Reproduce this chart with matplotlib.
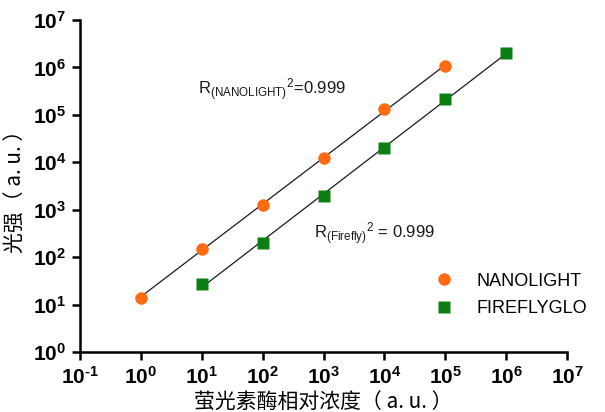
import numpy as np
import matplotlib
matplotlib.use("Agg")
import matplotlib.pyplot as plt
from matplotlib.ticker import FixedLocator, NullLocator

plt.rcParams['font.family'] = ['Liberation Sans', 'Noto Sans CJK SC', 'DejaVu Sans']
plt.rcParams['mathtext.fontset'] = 'custom'
plt.rcParams['mathtext.rm'] = 'Liberation Sans'
plt.rcParams['mathtext.it'] = 'Liberation Sans:italic'
plt.rcParams['mathtext.bf'] = 'Liberation Sans:bold'

# data
nano_x = [1, 10, 100, 1e3, 1e4, 1e5]
nano_y = [14, 150, 1250, 12500, 130000, 1050000]
fire_x = [10, 100, 1e3, 1e4, 1e5, 1e6]
fire_y = [27, 200, 1900, 20000, 220000, 2000000]
x_exps = [-1, 0, 1, 2, 3, 4, 5, 6, 7]
y_exps = [0, 1, 2, 3, 4, 5, 6, 7]
xlabel = "萤光素酶相对浓度（ a. u. ）"
ylabel = "光强（ a. u. ）"
nano_label = "NANOLIGHT"
fire_label = "FIREFLYGLO"
nano_r2 = "0.999"
fire_r2 = "0.999"

orange = '#FF6A13'
green = '#0C7E12'

fig = plt.figure(figsize=(6.05, 4.12), dpi=100)
ax = fig.add_axes([80/605, 60/412, 487/605, 332/412])
ax.set_xscale('log')
ax.set_yscale('log')
ax.set_xlim(10.0**x_exps[0], 10.0**x_exps[-1])
ax.set_ylim(10.0**y_exps[0], 10.0**y_exps[-1])

def fit_line(xs, ys):
    lx, ly = np.log10(xs), np.log10(ys)
    k, b = np.polyfit(lx, ly, 1)
    xx = np.array([lx.min(), lx.max()])
    return 10**xx, 10**(k*xx + b)

fx, fy = fit_line(nano_x, nano_y)
ax.plot(fx, fy, color='#1a1a1a', lw=0.9, zorder=2)
fx, fy = fit_line(fire_x, fire_y)
ax.plot(fx, fy, color='#1a1a1a', lw=0.9, zorder=2)

ax.plot(nano_x, nano_y, 'o', color=orange, ms=9, mec='none', zorder=3, label=nano_label)
ax.plot(fire_x, fire_y, 's', color=green, ms=9, mec='none', zorder=3, label=fire_label)

for s in ['top', 'right']:
    ax.spines[s].set_visible(False)
for s in ['left', 'bottom']:
    ax.spines[s].set_linewidth(1.8)

def tlabel(e):
    sup = ('\u2010%d' % -e) if e < 0 else str(e)
    return r'$\mathbf{10^{%s}}$' % sup

ax.xaxis.set_major_locator(FixedLocator([10.0**e for e in x_exps]))
ax.yaxis.set_major_locator(FixedLocator([10.0**e for e in y_exps]))
ax.xaxis.set_minor_locator(NullLocator())
ax.yaxis.set_minor_locator(NullLocator())
ax.set_xticklabels([tlabel(e) for e in x_exps])
ax.set_yticklabels([tlabel(e) for e in y_exps])
ax.tick_params(axis='both', which='major', direction='out', length=6, width=1.8,
               labelsize=15, pad=4)

ax.set_xlabel(xlabel, fontsize=15, family=['Noto Sans CJK SC', 'DejaVu Sans'], labelpad=2)
ax.set_ylabel(ylabel, fontsize=15, family=['Noto Sans CJK SC', 'DejaVu Sans'], labelpad=4)

ax.text(0.243, 0.775, r'R$_{\mathregular{(NANOLIGHT)}}$$^{\mathregular{2}}$=' + nano_r2,
        transform=ax.transAxes, fontsize=12, color='#1a1a1a')
ax.text(0.48, 0.34, r'R$_{\mathregular{(Firefly)}}$$^{\mathregular{2}}$ = ' + fire_r2,
        transform=ax.transAxes, fontsize=12, color='#1a1a1a')

leg = ax.legend(loc='lower right', bbox_to_anchor=(1.075, 0.055), frameon=False,
                fontsize=13, handletextpad=0.8, labelspacing=0.6, markerscale=1.0)

fig.savefig('out.png', dpi=100)
